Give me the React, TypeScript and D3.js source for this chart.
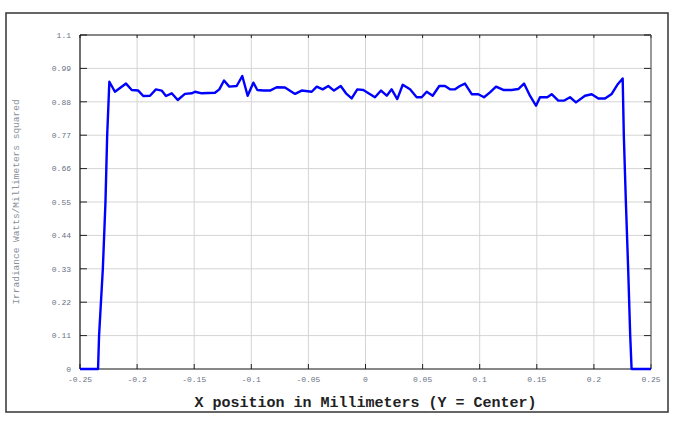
import React from "react";
import * as d3 from "d3";

const xPositions = [
  -0.25, -0.2342, -0.2333, -0.2300, -0.2277, -0.2262, -0.2250, -0.2243,
  -0.2194, -0.2097, -0.2047, -0.1990, -0.1946, -0.1887, -0.1835, -0.1785,
  -0.1747, -0.1697, -0.1644, -0.1581, -0.1522, -0.1493, -0.1434, -0.1318,
  -0.1280, -0.1239, -0.1193, -0.1128, -0.1079, -0.1032, -0.0982, -0.0947,
  -0.0895, -0.0836, -0.0778, -0.0705, -0.0617, -0.0559, -0.0471, -0.0427,
  -0.0375, -0.0326, -0.0276, -0.0217, -0.0171, -0.0121, -0.0072, -0.0019,
  0.0083, 0.0136, 0.0186, 0.0229, 0.0278, 0.0326, 0.0390, 0.0448,
  0.0492, 0.0536, 0.0588, 0.0646, 0.0696, 0.0740, 0.0784, 0.0827,
  0.0871, 0.0930, 0.0988, 0.1038, 0.1090, 0.1143, 0.1207, 0.1280,
  0.1338, 0.1388, 0.1440, 0.1493, 0.1528, 0.1592, 0.1630, 0.1688,
  0.1741, 0.1791, 0.1843, 0.1922, 0.1981, 0.2039, 0.2097, 0.2156,
  0.2205, 0.2252, 0.2262, 0.2280, 0.2300, 0.2318, 0.2330, 0.25,
];
const irradiance = [
  0, 0, 0.11, 0.33, 0.55, 0.77, 0.88, 0.946,
  0.913, 0.940, 0.919, 0.917, 0.899, 0.900, 0.921, 0.917,
  0.899, 0.908, 0.886, 0.906, 0.908, 0.913, 0.908, 0.910,
  0.921, 0.950, 0.930, 0.932, 0.965, 0.900, 0.943, 0.919,
  0.917, 0.917, 0.928, 0.927, 0.906, 0.917, 0.913, 0.930,
  0.921, 0.932, 0.917, 0.932, 0.908, 0.891, 0.921, 0.919,
  0.895, 0.917, 0.900, 0.921, 0.889, 0.936, 0.921, 0.895,
  0.895, 0.913, 0.900, 0.932, 0.932, 0.921, 0.921, 0.932,
  0.940, 0.905, 0.905, 0.895, 0.911, 0.930, 0.919, 0.919,
  0.922, 0.940, 0.900, 0.867, 0.895, 0.895, 0.905, 0.884,
  0.884, 0.895, 0.878, 0.900, 0.905, 0.891, 0.891, 0.906,
  0.936, 0.957, 0.77, 0.55, 0.33, 0.11, 0, 0,
];

const xTicks = [-0.25, -0.2, -0.15, -0.1, -0.05, 0, 0.05, 0.1, 0.15, 0.2, 0.25];
const xTickLabels = ["-0.25", "-0.2", "-0.15", "-0.1", "-0.05", "0", "0.05", "0.1", "0.15", "0.2", "0.25"];
const yTicks = [0, 0.11, 0.22, 0.33, 0.44, 0.55, 0.66, 0.77, 0.88, 0.99, 1.1];
const yTickLabels = ["0", "0.11", "0.22", "0.33", "0.44", "0.55", "0.66", "0.77", "0.88", "0.99", "1.1"];

const xTitle = "X position in Millimeters (Y = Center)";
const yTitle = "Irradiance Watts/Millimeters squared";

export default function App() {
  const W = 676, H = 427;
  const left = 80, right = 651, top = 35, bottom = 369;
  const x = d3.scaleLinear().domain([-0.25, 0.25]).range([left, right]);
  const y = d3.scaleLinear().domain([0, 1.1]).range([bottom, top]);
  const data = xPositions.map((v, i) => [v, irradiance[i]] as [number, number]);
  const line = d3.line<[number, number]>().x(d => x(d[0])).y(d => y(d[1]));
  const mono = "'Liberation Mono', 'Courier New', monospace";
  const tickColor = "#6b7285";

  return (
    <svg width={W} height={H} style={{ position: "absolute", left: 0, top: 0, background: "#fff" }}>
      <rect x={6} y={13} width={662} height={399} fill="#fff" stroke="#333" strokeWidth={1.5} />
      {/* grid */}
      {xTicks.slice(1, -1).map((t, i) => (
        <line key={"gx" + i} x1={x(t)} x2={x(t)} y1={top} y2={bottom} stroke="#d4d4d4" strokeWidth={1} />
      ))}
      {yTicks.slice(1, -1).map((t, i) => (
        <line key={"gy" + i} x1={left} x2={right} y1={y(t)} y2={y(t)} stroke="#d4d4d4" strokeWidth={1} />
      ))}
      {/* ticks */}
      {yTicks.map((t, i) => (
        <g key={"ty" + i}>
          <line x1={left} x2={left + 7} y1={y(t)} y2={y(t)} stroke="#222" strokeWidth={1} />
          <line x1={right - 7} x2={right} y1={y(t)} y2={y(t)} stroke="#222" strokeWidth={1} />
          <text x={left - 9} y={y(t)} dy="0.35em" textAnchor="end" fontFamily={mono} fontSize={8} fill={tickColor}>
            {yTickLabels[i]}
          </text>
        </g>
      ))}
      {xTicks.map((t, i) => (
        <g key={"tx" + i}>
          <line x1={x(t)} x2={x(t)} y1={bottom} y2={bottom - 5} stroke="#222" strokeWidth={1} />
          <line x1={x(t)} x2={x(t)} y1={top} y2={top + 3} stroke="#222" strokeWidth={1} />
          <text x={x(t)} y={bottom + 13} textAnchor="middle" fontFamily={mono} fontSize={8} fill={tickColor}>
            {xTickLabels[i]}
          </text>
        </g>
      ))}
      {/* plot border */}
      <line x1={left} x2={right} y1={top} y2={top} stroke="#111" strokeWidth={1.2} />
      <line x1={right} x2={right} y1={top} y2={bottom} stroke="#555" strokeWidth={1.2} />
      <line x1={left} x2={left} y1={top} y2={bottom} stroke="#111" strokeWidth={1.2} />
      <line x1={left} x2={right} y1={bottom} y2={bottom} stroke="#111" strokeWidth={1.2} />
      {/* data */}
      <path d={line(data) || ""} fill="none" stroke="#0000ff" strokeWidth={2.4} strokeLinejoin="round" />
      {/* titles */}
      <text x={(left + right) / 2} y={407} textAnchor="middle" fontFamily={mono} fontWeight="bold" fontSize={15} fill="#222">
        {xTitle}
      </text>
      <text transform={`translate(19, ${(top + bottom) / 2}) rotate(-90)`} textAnchor="middle" fontFamily={mono} fontSize={9.5} fill="#8a8f99">
        {yTitle}
      </text>
    </svg>
  );
}
